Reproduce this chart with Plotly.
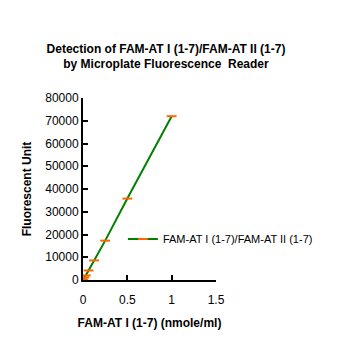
import plotly.graph_objects as go

conc = [0, 0.015625, 0.03125, 0.0625, 0.125, 0.25, 0.5, 1.0]
fluor = [300, 1100, 2000, 4200, 8600, 17300, 35800, 72000]
series_name = "FAM-AT I (1-7)/FAM-AT II (1-7)"
title_text = "<b>Detection of FAM-AT I (1-7)/FAM-AT II (1-7)<br>by Microplate Fluorescence  Reader</b>"
x_title = "<b>FAM-AT I (1-7) (nmole/ml)</b>"
y_title = "<b>Fluorescent Unit</b>"
x_ticks = [0, 0.5, 1, 1.5]
x_tick_labels = ["0", "0.5", "1", "1.5"]
y_ticks = [0, 10000, 20000, 30000, 40000, 50000, 60000, 70000, 80000]
y_tick_labels = ["0", "10000", "20000", "30000", "40000", "50000", "60000", "70000", "80000"]

FONT = "Liberation Sans, Arial, sans-serif"

fig = go.Figure()
fig.add_trace(go.Scatter(
    x=conc, y=fluor, mode="lines+markers", name=series_name,
    line=dict(color="#008000", width=2),
    marker=dict(symbol="line-ew", size=7, color="#FF6600",
                line=dict(color="#FF6600", width=2)),
))

fig.update_layout(
    width=348, height=347,
    margin=dict(l=83, r=132, t=98, b=67),
    paper_bgcolor="white", plot_bgcolor="white",
    font=dict(family=FONT, size=12, color="black"),
    title=dict(text=title_text, x=0.477, xanchor="center", y=0.848, yanchor="middle",
               font=dict(family=FONT, size=12, color="black")),
    showlegend=True,
    legend=dict(x=0.3, y=0.225, xanchor="left", yanchor="middle",
                bgcolor="rgba(0,0,0,0)", font=dict(family=FONT, size=11, color="black"),
                itemwidth=30, tracegroupgap=0),
    xaxis=dict(range=[0, 1.5], tickvals=x_ticks, ticktext=x_tick_labels,
               showgrid=False, zeroline=False, showline=True, linecolor="black", linewidth=2,
               ticks="inside", ticklen=5, tickwidth=2, tickcolor="black",
               ticklabelstandoff=8,
               title=dict(text=x_title, font=dict(family=FONT, size=12), standoff=12),
               tickfont=dict(family=FONT, size=12)),
    yaxis=dict(range=[0, 80000], tickvals=y_ticks, ticktext=y_tick_labels,
               showgrid=False, zeroline=False, showline=True, linecolor="black", linewidth=2,
               ticks="inside", ticklen=5, tickwidth=2, tickcolor="black",
               title=dict(text=y_title, font=dict(family=FONT, size=12), standoff=11),
               tickfont=dict(family=FONT, size=12)),
)

fig.write_html("out.html")
